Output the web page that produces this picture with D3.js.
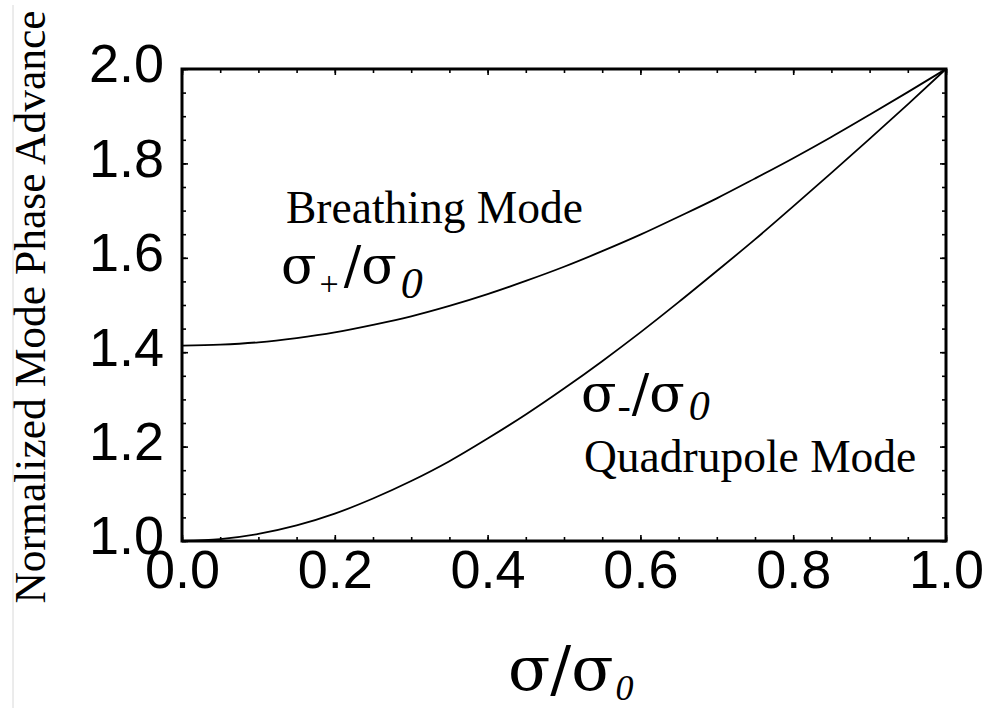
<!DOCTYPE html>
<html>
<head>
<meta charset="utf-8">
<script src="https://cdn.jsdelivr.net/npm/d3@7"></script>
<style>
  html, body { margin: 0; padding: 0; background: #fff; }
  svg { display: block; }
</style>
</head>
<body>
<svg id="chart" width="990" height="708"></svg>
<script>
// ---- data ----
const sigmaRatio = [0.00,0.05,0.10,0.15,0.20,0.25,0.30,0.35,0.40,0.45,0.50,0.55,0.60,0.65,0.70,0.75,0.80,0.85,0.90,0.95,1.00];
const breathingMode = [1.414,1.416,1.421,1.430,1.442,1.458,1.476,1.498,1.523,1.551,1.581,1.614,1.649,1.687,1.726,1.768,1.811,1.856,1.903,1.951,2.000];
const quadrupoleMode = [1.000,1.004,1.015,1.033,1.058,1.090,1.127,1.169,1.217,1.268,1.323,1.381,1.442,1.506,1.572,1.639,1.709,1.780,1.852,1.925,2.000];
const xTicks = [0.0,0.2,0.4,0.6,0.8,1.0];
const xTickLabels = ["0.0","0.2","0.4","0.6","0.8","1.0"];
const yTicks = [1.0,1.2,1.4,1.6,1.8,2.0];
const yTickLabels = ["1.0","1.2","1.4","1.6","1.8","2.0"];
const xMinorTicks = d3.range(0, 21).map(i => i * 0.05);
const yMinorTicks = d3.range(0, 21).map(i => 1 + i * 0.05);
const yAxisTitle = "Normalized Mode Phase Advance";
const breathingLabel = "Breathing Mode";
const quadrupoleLabel = "Quadrupole Mode";

// ---- layout ----
const L = 182, R = 946, T = 69, B = 541;
const svg = d3.select("#chart");
const x = d3.scaleLinear().domain([0, 1]).range([L, R]);
const y = d3.scaleLinear().domain([1, 2]).range([B, T]);

const sans = "'Liberation Sans', Arial, Helvetica, sans-serif";
const serif = "'Liberation Serif', 'Times New Roman', Times, serif";
const greek = "'DejaVu Serif', 'Liberation Serif', serif";

// faint scan edge line
svg.append("line").attr("x1", 13).attr("x2", 13).attr("y1", 5).attr("y2", 708)
  .attr("stroke", "#d8d8d8").attr("stroke-width", 1);

function styleAxis(g) {
  g.select(".domain").remove();
  g.selectAll(".tick line").attr("stroke", "#000").attr("stroke-width", 1.6);
}

// minor ticks, all four sides
svg.append("g").attr("transform", `translate(0,${B})`)
  .call(d3.axisBottom(x).tickValues(xMinorTicks).tickSize(-4).tickFormat(""))
  .call(styleAxis);
svg.append("g").attr("transform", `translate(0,${T})`)
  .call(d3.axisTop(x).tickValues(xMinorTicks).tickSize(-4).tickFormat(""))
  .call(styleAxis);
svg.append("g").attr("transform", `translate(${L},0)`)
  .call(d3.axisLeft(y).tickValues(yMinorTicks).tickSize(-4).tickFormat(""))
  .call(styleAxis);
svg.append("g").attr("transform", `translate(${R},0)`)
  .call(d3.axisRight(y).tickValues(yMinorTicks).tickSize(-4).tickFormat(""))
  .call(styleAxis);

// major ticks with labels
const gx = svg.append("g").attr("transform", `translate(0,${B})`)
  .call(d3.axisBottom(x).tickValues(xTicks).tickSize(-6).tickFormat((d, i) => xTickLabels[i]))
  .call(styleAxis);
gx.selectAll(".tick text").attr("y", 47).attr("dy", 0)
  .attr("font-family", sans).attr("font-size", 54).attr("fill", "#000");

const gy = svg.append("g").attr("transform", `translate(${L},0)`)
  .call(d3.axisLeft(y).tickValues(yTicks).tickSize(-6).tickFormat((d, i) => yTickLabels[i]))
  .call(styleAxis);
gy.selectAll(".tick text").attr("x", -18).attr("dy", "0.24em")
  .attr("font-family", sans).attr("font-size", 54).attr("fill", "#000");

svg.append("g").attr("transform", `translate(0,${T})`)
  .call(d3.axisTop(x).tickValues(xTicks).tickSize(-6).tickFormat(""))
  .call(styleAxis);
svg.append("g").attr("transform", `translate(${R},0)`)
  .call(d3.axisRight(y).tickValues(yTicks).tickSize(-6).tickFormat(""))
  .call(styleAxis);

// curves
const line = d3.line().x(d => x(d[0])).y(d => y(d[1])).curve(d3.curveMonotoneX);
[breathingMode, quadrupoleMode].forEach(series => {
  svg.append("path")
    .datum(sigmaRatio.map((s, i) => [s, series[i]]))
    .attr("d", line)
    .attr("fill", "none").attr("stroke", "#000").attr("stroke-width", 1.8);
});

// frame
svg.append("rect").attr("x", L).attr("y", T).attr("width", R - L).attr("height", B - T)
  .attr("fill", "none").attr("stroke", "#000").attr("stroke-width", 3);

// y axis title
svg.append("text")
  .attr("transform", "rotate(-90)")
  .attr("x", -307).attr("y", 45)
  .attr("text-anchor", "middle")
  .attr("font-family", serif).attr("font-size", 43.5)
  .text(yAxisTitle);

// x axis title  σ/σ0
const xt = svg.append("text").attr("x", 508).attr("y", 690)
  .attr("font-family", greek).attr("font-size", 62);
xt.append("tspan").text("σ/σ");
xt.append("tspan").attr("dy", 10).attr("dx", 2).attr("font-family", serif)
  .attr("font-size", 36).attr("font-style", "italic").text("0");

// annotations
svg.append("text").attr("x", 286).attr("y", 223)
  .attr("font-family", serif).attr("font-size", 45.5).text(breathingLabel);
svg.append("text").attr("x", 584).attr("y", 472)
  .attr("font-family", serif).attr("font-size", 45.5).text(quadrupoleLabel);

const ap = svg.append("text").attr("x", 281).attr("y", 283)
  .attr("font-family", greek).attr("font-size", 52);
ap.append("tspan").text("σ");
ap.append("tspan").attr("dy", 12).attr("dx", 3).attr("font-family", serif).attr("font-size", 34).text("+");
ap.append("tspan").attr("dy", -12).attr("dx", 5).text("/σ");
ap.append("tspan").attr("dy", 15).attr("dx", 4).attr("font-family", serif)
  .attr("font-size", 44).attr("font-style", "italic").text("0");

const am = svg.append("text").attr("x", 581).attr("y", 411)
  .attr("font-family", greek).attr("font-size", 52);
am.append("tspan").text("σ");
am.append("tspan").attr("dy", 8).attr("dx", 1).attr("font-family", serif).attr("font-size", 40).text("-");
am.append("tspan").attr("dy", -8).attr("dx", 1).text("/σ");
am.append("tspan").attr("dy", 9).attr("dx", 4).attr("font-family", serif)
  .attr("font-size", 42).attr("font-style", "italic").text("0");
</script>
</body>
</html>
